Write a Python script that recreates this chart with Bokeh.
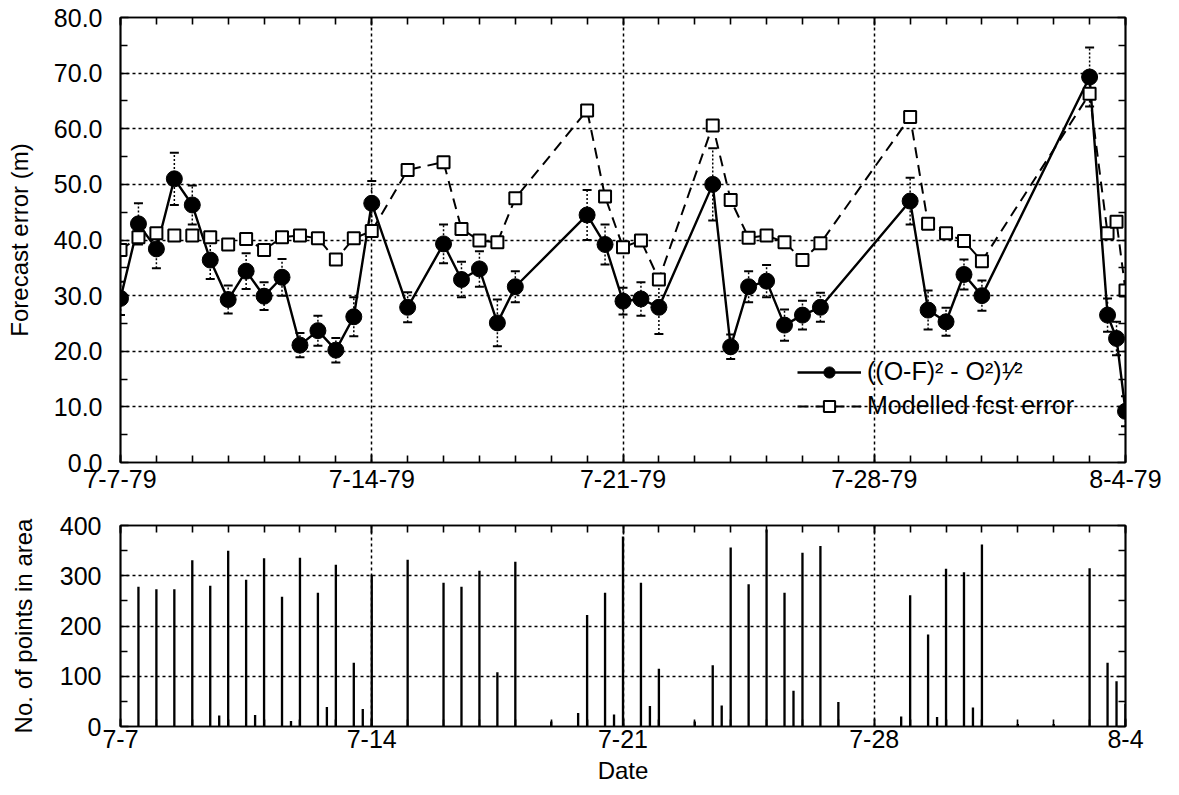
from bokeh.plotting import figure
from bokeh.models import (FixedTicker, LinearAxis, Range1d, ColumnDataSource,
                          Whisker, TeeHead, Legend, LegendItem, CustomJSTickFormatter)
from bokeh.layouts import column
from bokeh.embed import file_html
from bokeh.resources import INLINE

FONT = "Liberation Sans"

# ---------------- data ----------------
day_ticks = [0, 7, 14, 21, 28]
top_date_labels = ["7-7-79", "7-14-79", "7-21-79", "7-28-79", "8-4-79"]
bottom_date_labels = ["7-7", "7-14", "7-21", "7-28", "8-4"]
error_ticks = [0, 10, 20, 30, 40, 50, 60, 70, 80]
error_tick_labels = ["0.0", "10.0", "20.0", "30.0", "40.0", "50.0", "60.0", "70.0", "80.0"]
count_ticks = [0, 100, 200, 300, 400]
count_tick_labels = ["0", "100", "200", "300", "400"]

# days after 7-7-79 00Z
obs_days = [0.0, 0.5, 1.0, 1.5, 2.0, 2.5, 3.0, 3.5, 4.0, 4.5, 5.0, 5.5, 6.0, 6.5, 7.0,
            8.0, 9.0, 9.5, 10.0, 10.5, 11.0, 13.0, 13.5, 14.0, 14.5, 15.0,
            16.5, 17.0, 17.5, 18.0, 18.5, 19.0, 19.5,
            22.0, 22.5, 23.0, 23.5, 24.0, 27.0, 27.5, 27.75, 28.0]
obs_error = [29.5, 42.9, 38.4, 51.0, 46.3, 36.4, 29.3, 34.4, 29.9, 33.3, 21.1, 23.7, 20.2, 26.2, 46.6,
             27.9, 39.3, 32.9, 34.8, 25.1, 31.6, 44.5, 39.2, 29.0, 29.4, 27.9,
             50.0, 20.8, 31.6, 32.6, 24.7, 26.5, 27.9,
             47.0, 27.4, 25.3, 33.8, 30.0, 69.3, 26.5, 22.3, 9.2]
obs_spread = [3.0, 3.7, 3.5, 4.7, 3.5, 3.4, 2.5, 3.2, 2.5, 3.3, 2.2, 2.7, 2.2, 3.5, 4.0,
              2.7, 3.5, 3.2, 3.2, 4.2, 2.8, 4.5, 3.6, 2.4, 3.0, 4.8,
              6.5, 2.2, 2.8, 2.9, 2.8, 2.6, 2.6,
              4.2, 3.5, 2.5, 2.7, 2.7, 5.3, 3.0, 3.0, 2.7]

model_days = [0.0, 0.5, 1.0, 1.5, 2.0, 2.5, 3.0, 3.5, 4.0, 4.5, 5.0, 5.5, 6.0, 6.5, 7.0,
              8.0, 9.0, 9.5, 10.0, 10.5, 11.0, 13.0, 13.5, 14.0, 14.5, 15.0,
              16.5, 17.0, 17.5, 18.0, 18.5, 19.0, 19.5,
              22.0, 22.5, 23.0, 23.5, 24.0, 27.0, 27.5, 27.75, 28.0]
model_error = [38.2, 40.5, 41.2, 40.8, 40.8, 40.5, 39.2, 40.2, 38.2, 40.5, 40.8, 40.3, 36.5, 40.3, 41.6,
               52.6, 54.0, 42.0, 39.9, 39.6, 47.5, 63.3, 47.8, 38.7, 39.9, 32.9,
               60.6, 47.2, 40.4, 40.8, 39.6, 36.4, 39.4,
               62.1, 42.9, 41.2, 39.8, 36.2, 66.3, 41.2, 43.3, 30.9]

count_days = [0.5, 1.0, 1.5, 2.0, 2.5, 2.75, 3.0, 3.5, 3.75, 4.0, 4.5, 4.75, 5.0, 5.5, 5.75,
              6.0, 6.5, 6.75, 7.0, 8.0, 9.0, 9.5, 10.0, 10.5, 11.0, 12.0, 12.75, 13.0, 13.5,
              13.75, 14.0, 14.5, 14.75, 15.0, 16.0, 16.5, 16.75, 17.0, 17.5, 18.0, 18.5, 18.75,
              19.0, 19.5, 20.0, 21.75, 22.0, 22.5, 22.75, 23.0, 23.5, 23.75, 24.0, 25.0, 26.0,
              27.0, 27.5, 27.75, 28.0]
count_values = [278, 273, 273, 331, 280, 22, 350, 292, 23, 335, 258, 11, 336, 266, 39,
                322, 127, 35, 302, 332, 286, 278, 310, 108, 328, 10, 27, 222, 266,
                24, 378, 286, 41, 115, 10, 122, 42, 356, 283, 392, 266, 71,
                346, 359, 49, 20, 261, 183, 19, 314, 307, 38, 362, 5, 5,
                315, 127, 90, 45]

legend_labels = ["((O-F)\u00b2 - O\u00b2)\u00b9\u2044\u00b2", "Modelled fcst error"]


# ---------------- helpers ----------------
def style_axis(ax, label_size="25px", standoff=6):
    ax.major_tick_in = 8
    ax.major_tick_out = 0
    ax.minor_tick_in = 7
    ax.minor_tick_out = 0
    ax.axis_line_color = "black"
    ax.axis_line_width = 1.7
    ax.major_tick_line_color = "black"
    ax.major_tick_line_width = 1.6
    ax.minor_tick_line_color = "black"
    ax.minor_tick_line_width = 1.6
    ax.major_label_text_font = FONT
    ax.major_label_text_font_size = label_size
    ax.major_label_text_color = "black"
    ax.major_label_standoff = standoff
    ax.axis_label_text_font = FONT
    ax.axis_label_text_font_size = "24px"
    ax.axis_label_text_font_style = "normal"
    ax.axis_label_text_color = "black"


def frame_axes(p, xticker, yticker):
    for loc, tk in (("above", xticker), ("right", yticker)):
        ax = LinearAxis(ticker=tk, formatter=CustomJSTickFormatter(code="return ''"))
        style_axis(ax, label_size="0px", standoff=0)
        p.add_layout(ax, loc)


def style_fig(p):
    p.outline_line_color = "black"
    p.outline_line_width = 1.7
    p.grid.grid_line_color = "black"
    p.grid.grid_line_dash = "3 3"
    p.grid.grid_line_width = 1.5
    p.background_fill_color = "white"
    p.border_fill_color = "white"


# ---------------- top panel ----------------
xt_top = FixedTicker(ticks=day_ticks, minor_ticks=list(range(0, 29)))
yt_top = FixedTicker(ticks=error_ticks, minor_ticks=list(range(5, 80, 10)))

p1 = figure(width=1170, height=500, output_backend="svg", toolbar_location=None,
            title=None, x_range=Range1d(0, 28), y_range=Range1d(0, 80),
            min_border_left=120, min_border_right=45, min_border_top=17, min_border_bottom=38)
p1.xaxis.ticker = xt_top
p1.yaxis.ticker = yt_top
p1.xaxis.major_label_overrides = {d: s for d, s in zip(day_ticks, top_date_labels)}
p1.yaxis.major_label_overrides = {v: s for v, s in zip(error_ticks, error_tick_labels)}
style_axis(p1.xaxis[0], label_size="25px", standoff=7)
style_axis(p1.yaxis[0], label_size="25px", standoff=18)
p1.yaxis.axis_label = "Forecast error (m)"
p1.yaxis.axis_label_standoff = 18
frame_axes(p1, xt_top, yt_top)
style_fig(p1)

err_src = ColumnDataSource(dict(
    day=obs_days,
    upper=[v + e for v, e in zip(obs_error, obs_spread)],
    lower=[v - e for v, e in zip(obs_error, obs_spread)],
))
whisk = Whisker(source=err_src, base="day", upper="upper", lower="lower",
                line_color="black", line_width=1.5, line_dash="2 2",
                upper_head=TeeHead(size=9, line_color="black", line_width=2),
                lower_head=TeeHead(size=9, line_color="black", line_width=2))
p1.add_layout(whisk)

m_line = p1.line(model_days, model_error, line_color="black", line_width=2, line_dash="11 7")
o_line = p1.line(obs_days, obs_error, line_color="black", line_width=2.4)
o_pts = p1.scatter(obs_days, obs_error, marker="circle", size=16,
                   fill_color="black", line_color="black")
m_pts = p1.scatter(model_days, model_error, marker="square", size=12,
                   fill_color="white", line_color="black", line_width=2)

legend = Legend(items=[LegendItem(label=legend_labels[0], renderers=[o_line, o_pts]),
                       LegendItem(label=legend_labels[1], renderers=[m_line, m_pts])],
                location=(677, 42))
legend.background_fill_alpha = 0
legend.border_line_color = None
legend.label_text_font = FONT
legend.label_text_font_size = "25px"
legend.label_text_color = "black"
legend.glyph_width = 64
legend.glyph_height = 28
legend.label_height = 28
legend.label_standoff = 6
legend.spacing = 5
legend.padding = 0
legend.margin = 0
p1.add_layout(legend)

# ---------------- bottom panel ----------------
xt_bot = FixedTicker(ticks=day_ticks, minor_ticks=list(range(0, 29)))
yt_bot = FixedTicker(ticks=count_ticks, minor_ticks=[50, 150, 250, 350])

p2 = figure(width=1170, height=294, output_backend="svg", toolbar_location=None,
            title=None, x_range=Range1d(0, 28), y_range=Range1d(0, 400),
            min_border_left=120, min_border_right=45, min_border_top=25, min_border_bottom=68)
p2.xaxis.ticker = xt_bot
p2.yaxis.ticker = yt_bot
p2.xaxis.major_label_overrides = {d: s for d, s in zip(day_ticks, bottom_date_labels)}
p2.yaxis.major_label_overrides = {v: s for v, s in zip(count_ticks, count_tick_labels)}
style_axis(p2.xaxis[0], label_size="25px", standoff=3)
style_axis(p2.yaxis[0], label_size="25px", standoff=19)
p2.xaxis.axis_label = "Date"
p2.xaxis.axis_label_standoff = 6
p2.yaxis.axis_label = "No. of points in area"
p2.yaxis.axis_label_standoff = 20
frame_axes(p2, xt_bot, yt_bot)
style_fig(p2)

p2.vbar(x=count_days, top=count_values, width=0.065, fill_color="black", line_color=None)

layout = column(p1, p2, spacing=0)
open("out.html", "w").write(file_html(layout, INLINE))
